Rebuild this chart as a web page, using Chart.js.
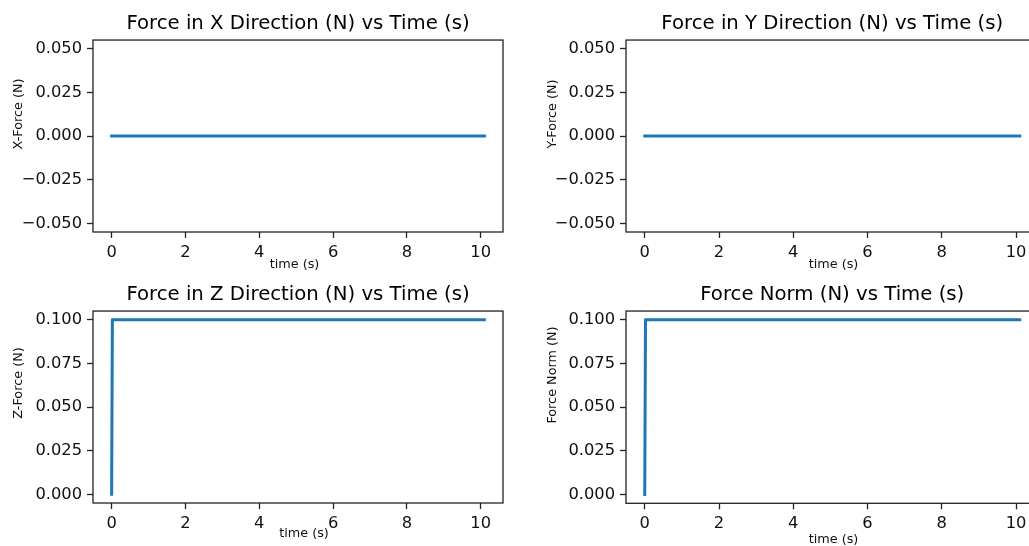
<!DOCTYPE html>
<html>
<head>
<meta charset="utf-8">
<script src="https://cdn.jsdelivr.net/npm/chart.js@4.4.1/dist/chart.umd.min.js"></script>
<style>
  html, body { margin: 0; padding: 0; background: #fff; overflow: hidden; width: 1029px; height: 546px; }
  canvas { position: absolute; }
</style>
</head>
<body>
<canvas id="fx" width="520" height="280" style="left:0;top:0"></canvas>
<canvas id="fy" width="540" height="280" style="left:520px;top:0"></canvas>
<canvas id="fz" width="520" height="266" style="left:0;top:280px"></canvas>
<canvas id="fn" width="540" height="266" style="left:520px;top:280px"></canvas>
<script>
// sampled time (s) and the four force series (N)
const timeS = [0, 0.02, 10.1]
const forceX = [0, 0, 0]
const forceY = [0, 0, 0]
const forceZ = [0, 0.1, 0.1]
const forceNorm = [0, 0.1, 0.1]

const xTicks = [0, 2, 4, 6, 8, 10]
const xRange = [-0.505, 10.605]
const ticksXY = [-0.05, -0.025, 0, 0.025, 0.05]
const rangeXY = [-0.055, 0.055]
const ticksZN = [0, 0.025, 0.05, 0.075, 0.1]
const rangeZN = [-0.005, 0.105]

const FONT = 'DejaVu Sans'
const INK = '#111'
const lineColour = '#1f77b4'

const framePlugin = {
  id: 'frame',
  afterDatasetsDraw(chart) {
    const ctx = chart.ctx
    const a = chart.chartArea
    ctx.save()
    ctx.strokeStyle = '#222'
    ctx.lineWidth = 1.3
    ctx.strokeRect(a.left, a.top, a.right - a.left, a.bottom - a.top)
    ctx.restore()
  }
}

// matplotlib puts the axis labels a bit off-centre, so draw them by hand
const axisLabelPlugin = {
  id: 'axisLabels',
  afterDraw(chart, args, o) {
    const ctx = chart.ctx
    ctx.save()
    ctx.font = '12.8px "' + FONT + '"'
    ctx.fillStyle = INK
    ctx.textAlign = 'center'
    ctx.textBaseline = 'middle'
    ctx.fillText(o.xText, o.xX, o.xY)
    ctx.translate(o.yX, o.yY)
    ctx.rotate(-Math.PI / 2)
    ctx.fillText(o.yText, 0, 0)
    ctx.restore()
  }
}

function fmtY(v) {
  return v.toFixed(3).replace('-', '\u2212')
}

function makeChart(id, p) {
  const canvas = document.getElementById(id)
  const W = canvas.width
  const H = canvas.height
  const a = p.area
  const points = []
  for (let i = 0; i < timeS.length; i++) {
    points.push({ x: timeS[i], y: p.values[i] })
  }
  const titleLH = 23.6

  return new Chart(canvas, {
    type: 'line',
    data: {
      datasets: [{
        data: points,
        borderColor: lineColour,
        borderWidth: 3,
        borderCapStyle: 'square',
        borderJoinStyle: 'round',
        pointRadius: 0,
        fill: false,
        tension: 0
      }]
    },
    plugins: [framePlugin, axisLabelPlugin],
    options: {
      responsive: false,
      animation: false,
      devicePixelRatio: 1,
      layout: {
        autoPadding: false,
        padding: { left: 0, top: 0, right: W - a.right, bottom: 0 }
      },
      plugins: {
        legend: { display: false },
        tooltip: { enabled: false },
        title: {
          display: true,
          text: p.title,
          fullSize: false,
          color: '#000',
          font: { family: FONT, size: 19.7, weight: 'normal', lineHeight: 1.2 },
          padding: { top: p.titleTop, bottom: a.top - p.titleTop - titleLH }
        },
        axisLabels: {
          xText: 'time (s)', xX: p.xLab[0], xY: p.xLab[1],
          yText: p.ylabel, yX: p.yLab[0], yY: p.yLab[1]
        }
      },
      scales: {
        x: {
          type: 'linear',
          min: xRange[0],
          max: xRange[1],
          afterBuildTicks: function(s) { s.ticks = xTicks.map(v => ({ value: v })) },
          afterFit: function(s) { s.height = H - a.bottom },
          ticks: {
            autoSkip: false,
            maxRotation: 0,
            padding: 4.5,
            color: INK,
            font: { family: FONT, size: 16.3 },
            callback: v => String(v)
          },
          grid: { display: true, drawOnChartArea: false, drawTicks: true, tickLength: 6, tickWidth: 1.3, tickColor: '#222' },
          border: { display: false }
        },
        y: {
          type: 'linear',
          min: p.range[0],
          max: p.range[1],
          afterBuildTicks: function(s) { s.ticks = p.ticks.map(v => ({ value: v })) },
          afterFit: function(s) { s.width = a.left },
          ticks: {
            autoSkip: false,
            padding: 5,
            color: INK,
            font: { family: FONT, size: 16.3 },
            callback: v => fmtY(v)
          },
          grid: { display: true, drawOnChartArea: false, drawTicks: true, tickLength: 6, tickWidth: 1.3, tickColor: '#222' },
          border: { display: false }
        }
      }
    }
  })
}

makeChart('fx', {
  title: 'Force in X Direction (N) vs Time (s)', ylabel: 'X-Force (N)',
  values: forceX, ticks: ticksXY, range: rangeXY,
  area: { left: 93, right: 503, top: 40, bottom: 232 }, titleTop: 11.8,
  xLab: [294.5, 265], yLab: [18.7, 114]
})
makeChart('fy', {
  title: 'Force in Y Direction (N) vs Time (s)', ylabel: 'Y-Force (N)',
  values: forceY, ticks: ticksXY, range: rangeXY,
  area: { left: 106, right: 518.5, top: 40, bottom: 232 }, titleTop: 11.8,
  xLab: [313.5, 265], yLab: [32.5, 114]
})
makeChart('fz', {
  title: 'Force in Z Direction (N) vs Time (s)', ylabel: 'Z-Force (N)',
  values: forceZ, ticks: ticksZN, range: rangeZN,
  area: { left: 93, right: 503, top: 31, bottom: 223 }, titleTop: 3.1,
  xLab: [304, 254], yLab: [18.7, 103]
})
makeChart('fn', {
  title: 'Force Norm (N) vs Time (s)', ylabel: 'Force Norm (N)',
  values: forceNorm, ticks: ticksZN, range: rangeZN,
  area: { left: 106, right: 518.5, top: 31, bottom: 223.3 }, titleTop: 3.1,
  xLab: [313.5, 260], yLab: [32.5, 95]
})
</script>
</body>
</html>
